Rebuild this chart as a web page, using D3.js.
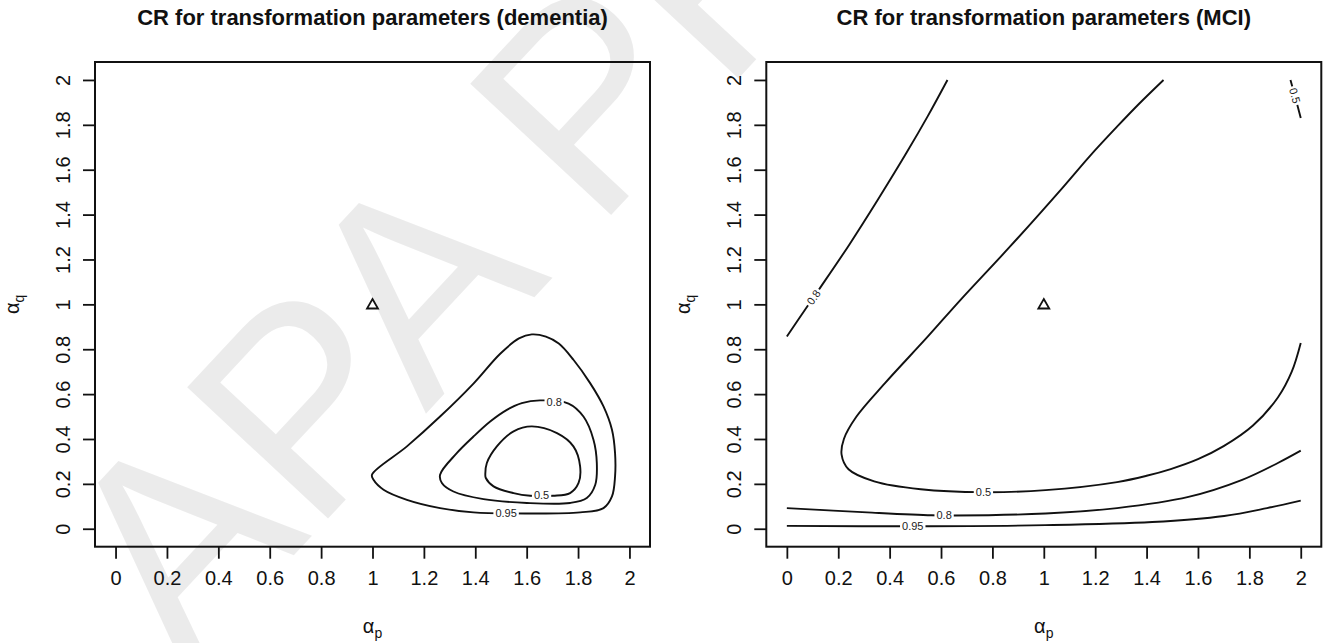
<!DOCTYPE html>
<html>
<head>
<meta charset="utf-8">
<script src="https://cdn.jsdelivr.net/npm/d3@7"></script>
<style>
  body { margin: 0; background: #fff; }
  svg { display: block; }
  text { font-family: "Liberation Sans", Arial, Helvetica, sans-serif; }
</style>
</head>
<body>
<svg id="chart" width="1328" height="643"></svg>
<script>
// ---- data -------------------------------------------------------------
const tickValues = [0, 0.2, 0.4, 0.6, 0.8, 1, 1.2, 1.4, 1.6, 1.8, 2];
const tickLabels = ["0", "0.2", "0.4", "0.6", "0.8", "1", "1.2", "1.4", "1.6", "1.8", "2"];
const referencePoint = [1, 1];   // (alpha_p, alpha_q) = (1, 1)

// Confidence-region contours, dementia (closed curves, [alpha_p, alpha_q])
const dementia95 = [
  [0.998, 0.241], [1.134, 0.367], [1.263, 0.500], [1.393, 0.647], [1.497, 0.780],
  [1.570, 0.848], [1.620, 0.866], [1.675, 0.856], [1.725, 0.825], [1.782, 0.753],
  [1.847, 0.649], [1.899, 0.545], [1.932, 0.441], [1.944, 0.337], [1.944, 0.233],
  [1.932, 0.144], [1.899, 0.092], [1.808, 0.073], [1.600, 0.068], [1.393, 0.073],
  [1.263, 0.092], [1.134, 0.129], [1.043, 0.174], [1.004, 0.218]
];
const dementia80 = [
  [1.263, 0.241], [1.328, 0.337], [1.393, 0.411], [1.458, 0.478], [1.523, 0.530],
  [1.581, 0.560], [1.652, 0.572], [1.763, 0.558], [1.821, 0.500], [1.860, 0.397],
  [1.873, 0.293], [1.867, 0.196], [1.834, 0.137], [1.769, 0.115], [1.601, 0.115],
  [1.432, 0.132], [1.315, 0.166], [1.270, 0.204]
];
const dementia50 = [
  [1.439, 0.241], [1.445, 0.293], [1.484, 0.367], [1.549, 0.434], [1.620, 0.456],
  [1.718, 0.426], [1.782, 0.367], [1.808, 0.278], [1.802, 0.204], [1.769, 0.159],
  [1.703, 0.147], [1.614, 0.147], [1.549, 0.159], [1.471, 0.189], [1.441, 0.226]
];

// Confidence-region contours, MCI (open curves ending at the grid edge)
const mci80Upper = [
  [0.000, 0.857], [0.076, 0.985], [0.132, 1.078], [0.243, 1.266], [0.354, 1.466],
  [0.465, 1.674], [0.549, 1.840], [0.625, 2.000]
];
const mci50Main = [
  [1.466, 2.000], [1.370, 1.893], [1.286, 1.793], [1.180, 1.662], [1.077, 1.525],
  [0.869, 1.258], [0.676, 1.020], [0.549, 0.857], [0.382, 0.649], [0.271, 0.500],
  [0.222, 0.400], [0.213, 0.330], [0.240, 0.265], [0.340, 0.211], [0.521, 0.176],
  [0.765, 0.163], [1.007, 0.172], [1.285, 0.208], [1.400, 0.236], [1.494, 0.266],
  [1.600, 0.310], [1.700, 0.368], [1.814, 0.460], [1.911, 0.585], [1.965, 0.700],
  [2.000, 0.828]
];
const mci50Corner = [[1.960, 2.000], [1.977, 1.930], [2.000, 1.830]];
const mci80Lower = [
  [0.000, 0.092], [0.312, 0.073], [0.563, 0.060], [0.653, 0.059], [1.007, 0.068],
  [1.285, 0.092], [1.563, 0.142], [1.772, 0.218], [1.911, 0.293], [2.000, 0.348]
];
const mci95 = [
  [0.000, 0.013], [0.490, 0.011], [1.007, 0.016], [1.422, 0.030], [1.702, 0.057],
  [1.869, 0.092], [2.000, 0.125]
];

// Contour labels: [alpha_p, alpha_q, text]
const dementiaLabels = [
  [1.520, 0.070, "0.95"], [1.707, 0.566, "0.8"], [1.658, 0.148, "0.5"]
];
const mciLabels = [
  [0.104, 1.031, "0.8"], [1.977, 1.930, "0.5"], [0.765, 0.163, "0.5"],
  [0.612, 0.060, "0.8"], [0.490, 0.011, "0.95"]
];

const titles = [
  "CR for transformation parameters (dementia)",
  "CR for transformation parameters (MCI)"
];

// ---- drawing ----------------------------------------------------------
const svg = d3.select("#chart");

// "APA PROOFS" watermark behind the plots
svg.append("text")
  .attr("transform", "translate(185,672) rotate(-47)")
  .attr("font-size", 280)
  .attr("fill", "#000")
  .attr("fill-opacity", 0.08)
  .text("APA PROOFS");

const panels = [
  { left: 95, right: 650, title: titles[0],
    contours: [
      { pts: dementia95, closed: true }, { pts: dementia80, closed: true },
      { pts: dementia50, closed: true }
    ],
    labels: dementiaLabels },
  { left: 766.3, right: 1321.3, title: titles[1],
    contours: [
      { pts: mci80Upper }, { pts: mci50Main }, { pts: mci50Corner },
      { pts: mci80Lower }, { pts: mci95 }
    ],
    labels: mciLabels }
];

const plotTop = 62, plotBottom = 546.7;
const ext = [-0.08, 2.08];   // 4% padding around [0, 2]

panels.forEach(p => {
  const x = d3.scaleLinear().domain(ext).range([p.left, p.right]);
  const y = d3.scaleLinear().domain(ext).range([plotBottom, plotTop]);
  const g = svg.append("g");

  // contours
  p.contours.forEach(c => {
    const line = d3.line()
      .x(d => x(d[0])).y(d => y(d[1]))
      .curve(c.closed ? d3.curveCatmullRomClosed.alpha(0.5) : d3.curveCatmullRom.alpha(0.5));
    g.append("path")
      .attr("d", line(c.pts))
      .attr("fill", "none")
      .attr("stroke", "#111")
      .attr("stroke-width", 1.9);
  });

  // contour labels, breaking the line underneath
  p.labels.forEach(l => {
    const cx = x(l[0]), cy = y(l[1]);
    // orientation follows the local direction of the nearest contour
    let angle = 0;
    let best = Infinity;
    p.contours.forEach(c => {
      for (let i = 0; i < c.pts.length - 1; i++) {
        const a = c.pts[i], b = c.pts[i + 1];
        const mx = (x(a[0]) + x(b[0])) / 2, my = (y(a[1]) + y(b[1])) / 2;
        const dist = Math.hypot(mx - cx, my - cy);
        if (dist < best) {
          best = dist;
          let ang = Math.atan2(y(b[1]) - y(a[1]), x(b[0]) - x(a[0])) * 180 / Math.PI;
          if (ang > 90) ang -= 180;
          if (ang < -90) ang += 180;
          angle = ang;
        }
      }
    });
    if (Math.abs(angle) < 12) angle = 0;
    const lg = g.append("g").attr("transform", `translate(${cx},${cy}) rotate(${angle})`);
    const t = lg.append("text")
      .attr("text-anchor", "middle")
      .attr("dy", "0.35em")
      .attr("font-size", 11)
      .attr("fill", "#222")
      .text(l[2]);
    const w = t.node().getComputedTextLength();
    lg.insert("rect", "text")
      .attr("x", -w / 2 - 2).attr("y", -5)
      .attr("width", w + 4).attr("height", 10)
      .attr("fill", "#fff");
  });

  // reference point (open triangle)
  g.append("path")
    .attr("transform", `translate(${x(referencePoint[0])},${y(referencePoint[1]) + 1})`)
    .attr("d", d3.symbol(d3.symbolTriangle, 52)())
    .attr("fill", "none")
    .attr("stroke", "#111")
    .attr("stroke-width", 1.8);

  // x axis
  const gx = g.append("g")
    .attr("transform", `translate(0,${plotBottom})`)
    .call(d3.axisBottom(x).tickValues(tickValues)
      .tickFormat((d, i) => tickLabels[i]).tickSize(12).tickPadding(12));
  gx.select(".domain").remove();
  gx.selectAll("line").attr("stroke", "#111").attr("stroke-width", 1.8);
  gx.selectAll("text").attr("font-size", 20).attr("fill", "#111")
    .attr("font-family", "'Liberation Sans', Arial, sans-serif");

  // y axis (labels parallel to the axis)
  const gy = g.append("g")
    .attr("transform", `translate(${p.left},0)`)
    .call(d3.axisLeft(y).tickValues(tickValues)
      .tickFormat((d, i) => tickLabels[i]).tickSize(12));
  gy.select(".domain").remove();
  gy.selectAll("line").attr("stroke", "#111").attr("stroke-width", 1.8);
  gy.selectAll("text")
    .attr("x", null).attr("dy", null)
    .attr("text-anchor", "middle")
    .attr("transform", "translate(-25,0) rotate(-90)")
    .attr("font-size", 20).attr("fill", "#111")
    .attr("font-family", "'Liberation Sans', Arial, sans-serif");

  // plot frame
  g.append("rect")
    .attr("x", p.left).attr("y", plotTop)
    .attr("width", p.right - p.left).attr("height", plotBottom - plotTop)
    .attr("fill", "none").attr("stroke", "#111").attr("stroke-width", 2);

  // title
  g.append("text")
    .attr("x", (p.left + p.right) / 2).attr("y", 25)
    .attr("text-anchor", "middle")
    .attr("font-size", 22).attr("font-weight", "bold").attr("fill", "#111")
    .text(p.title);

  // axis titles
  const xt = g.append("text")
    .attr("x", (p.left + p.right) / 2).attr("y", 633)
    .attr("text-anchor", "middle").attr("font-size", 20).attr("fill", "#111");
  xt.append("tspan").text("α");
  xt.append("tspan").attr("font-size", 14).attr("dy", 5).text("p");

  const yt = g.append("text")
    .attr("transform", `translate(${p.left - 76},${(plotTop + plotBottom) / 2}) rotate(-90)`)
    .attr("text-anchor", "middle").attr("font-size", 20).attr("fill", "#111");
  yt.append("tspan").text("α");
  yt.append("tspan").attr("font-size", 14).attr("dy", 5).text("q");
});
</script>
</body>
</html>
